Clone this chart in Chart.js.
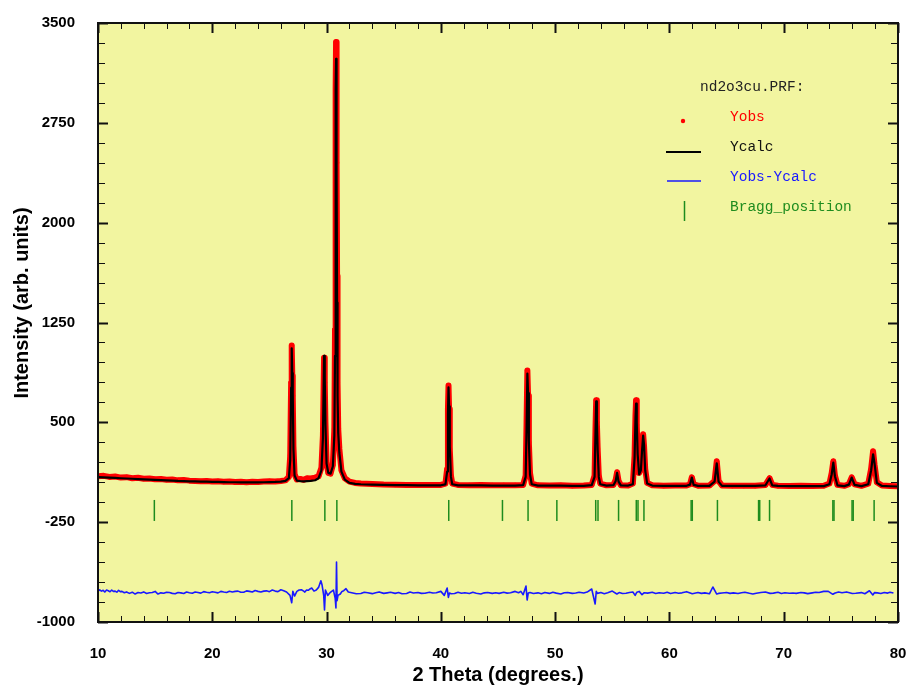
<!DOCTYPE html>
<html>
<head>
<meta charset="utf-8">
<script src="https://cdn.jsdelivr.net/npm/chart.js@4/dist/chart.umd.min.js"></script>
<style>
  html, body { margin: 0; padding: 0; background: #ffffff; }
  #wrap { width: 910px; height: 687px; }
</style>
</head>
<body>
<div id="wrap"><canvas id="c" width="910" height="687"></canvas></div>
<script>
// ---- Data ----
const twoTheta = [10.0,10.5,11.0,11.5,12.0,12.5,13.0,13.5,14.0,14.5,15.0,15.5,16.0,16.5,17.0,17.5,18.0,18.5,19.0,19.5,20.0,20.5,21.0,21.5,22.0,22.5,23.0,23.5,24.0,24.5,25.0,25.5,26.0,26.4,26.7,26.82,26.9,26.95,27.0,27.04,27.1,27.2,27.4,27.7,28.0,28.3,28.6,29.0,29.3,29.55,29.68,29.78,29.84,29.9,30.0,30.15,30.35,30.55,30.68,30.74,30.78,30.81,30.83,30.86,30.89,30.92,30.96,31.02,31.12,31.3,31.6,32.0,32.5,33.0,34.0,35.0,36.0,37.0,38.0,39.0,40.0,40.4,40.55,40.62,40.67,40.72,40.78,40.88,41.0,41.5,42.5,43.5,44.5,45.5,46.5,47.2,47.42,47.5,47.57,47.63,47.7,47.8,47.95,48.5,49.5,50.5,51.5,52.5,53.2,53.45,53.53,53.59,53.65,53.72,53.82,53.95,54.5,55.1,55.3,55.42,55.55,55.75,56.4,56.8,56.95,57.03,57.08,57.14,57.22,57.35,57.5,57.6,57.7,57.78,57.88,58.05,58.5,59.5,60.5,61.5,61.8,61.96,62.12,62.5,63.5,63.95,64.14,64.3,64.6,65.5,66.5,67.5,68.4,68.76,69.0,69.5,70.5,71.5,72.5,73.5,74.0,74.2,74.34,74.48,74.7,75.3,75.7,75.95,76.2,76.8,77.4,77.65,77.82,77.95,78.15,78.6,79.3,80.0];
const yObs = [95,98,90,93,85,88,80,84,76,78,72,74,68,70,64,66,62,60,58,60,55,57,54,56,52,54,50,53,51,55,58,56,60,64,90,250,800,1077,850,700,320,110,70,75,68,80,78,85,95,160,400,985,800,500,200,120,115,180,450,1200,2300,3000,3357,2900,2450,1600,800,450,300,140,80,55,45,40,36,33,32,30,29,30,30,40,150,600,777,600,300,100,40,30,28,30,27,28,27,30,100,500,890,700,350,120,40,27,25,27,24,25,30,100,450,665,500,300,100,40,27,30,70,125,60,28,26,40,250,550,665,480,250,120,150,300,410,320,150,45,27,24,25,25,35,87,35,24,25,60,207,60,25,24,23,24,30,80,30,23,22,23,22,23,40,120,207,100,30,23,35,87,35,23,40,150,282,180,50,25,22,20];
const yCalc = [88,86,84,82,80,78,76,74,72,70,68,66,64,62,60,59,57,56,55,54,53,52,51,50,50,49,49,49,49,50,51,52,55,60,80,220,760,1055,870,720,300,100,62,58,56,58,60,65,80,140,380,1000,840,480,190,120,115,170,400,1000,2200,3000,3230,1600,2370,1400,700,420,270,130,70,45,38,35,32,30,29,28,27,27,27,34,130,560,762,620,320,90,35,27,26,26,25,25,25,28,90,450,867,720,360,110,35,25,24,24,23,23,28,90,420,657,520,290,90,35,25,28,60,120,55,26,25,35,230,530,640,500,260,110,140,280,400,330,140,40,25,23,23,23,32,85,30,23,23,55,192,55,23,22,22,22,27,78,27,22,21,21,21,21,35,110,197,95,27,21,32,85,30,21,35,140,260,190,45,22,20,18];

const diffTheta = [10.0,10.15,10.3,10.45,10.6,10.75,10.9,11.05,11.2,11.35,11.5,11.65,11.8,11.95,12.1,12.3,12.5,12.75,13.0,13.25,13.5,13.75,14.0,14.25,14.5,14.75,15.0,15.25,15.5,15.75,16.0,16.25,16.5,16.75,17.0,17.25,17.5,17.75,18.0,18.25,18.5,18.75,19.0,19.25,19.5,19.75,20.0,20.25,20.5,20.75,21.0,21.25,21.5,21.75,22.0,22.25,22.5,22.75,23.0,23.25,23.5,23.75,24.0,24.25,24.5,24.75,25.0,25.25,25.5,25.75,26.0,26.25,26.5,26.8,26.95,27.05,27.2,27.4,27.6,27.8,28.0,28.1,28.25,28.4,28.55,28.7,28.9,29.1,29.3,29.5,29.6,29.75,29.82,29.9,30.1,30.3,30.45,30.6,30.75,30.82,30.87,30.92,31.0,31.2,31.35,31.5,31.7,31.9,32.1,32.3,32.6,33.0,33.3,33.6,34.0,34.3,34.6,35.0,35.3,35.6,36.0,36.3,36.6,37.0,37.3,37.6,38.0,38.3,38.6,39.0,39.3,39.6,40.0,40.3,40.55,40.66,40.75,40.9,41.2,41.5,41.8,42.1,42.5,42.8,43.1,43.5,43.8,44.1,44.5,44.8,45.1,45.5,45.8,46.1,46.5,46.8,47.0,47.2,47.45,47.55,47.65,47.8,48.1,48.5,48.8,49.1,49.5,49.8,50.1,50.5,50.8,51.1,51.5,51.8,52.1,52.5,52.8,53.2,53.5,53.6,53.7,54.0,54.3,54.6,55.0,55.4,55.6,55.9,56.2,56.5,56.8,57.0,57.15,57.35,57.6,57.8,58.1,58.5,58.8,59.1,59.5,59.8,60.1,60.5,60.8,61.1,61.5,62.0,62.2,62.5,62.8,63.1,63.5,63.8,64.14,64.3,64.6,65.0,65.3,65.6,66.0,66.3,66.6,67.0,67.3,67.6,68.0,68.4,68.8,69.1,69.5,69.8,70.1,70.5,70.8,71.1,71.5,71.8,72.1,72.5,72.8,73.1,73.5,73.9,74.3,74.5,74.8,75.1,75.5,76.0,76.3,76.8,77.1,77.5,77.8,77.95,78.2,78.5,78.8,79.1,79.3,79.6,80.0];
const yDiff = [-770,-758,-768,-762,-775,-760,-765,-773,-760,-770,-768,-776,-762,-772,-770,-780,-774,-785,-776,-790,-779,-782,-774,-786,-780,-778,-770,-790,-781,-784,-776,-779,-785,-788,-778,-781,-786,-775,-780,-784,-775,-779,-783,-772,-777,-780,-773,-776,-781,-770,-775,-778,-769,-774,-770,-768,-777,-776,-766,-770,-775,-764,-770,-775,-768,-766,-772,-760,-768,-772,-758,-765,-775,-800,-855,-770,-805,-770,-760,-758,-768,-775,-760,-762,-752,-745,-768,-760,-740,-690,-720,-800,-910,-760,-800,-780,-770,-760,-820,-895,-549,-840,-800,-790,-770,-765,-750,-775,-778,-782,-788,-786,-776,-780,-787,-780,-774,-785,-781,-777,-785,-779,-788,-786,-775,-782,-778,-785,-784,-776,-782,-780,-770,-800,-745,-815,-782,-788,-786,-776,-784,-780,-786,-777,-784,-790,-781,-778,-785,-780,-785,-777,-783,-780,-770,-780,-770,-795,-730,-835,-782,-778,-786,-781,-788,-779,-785,-776,-783,-789,-780,-778,-785,-782,-776,-782,-775,-752,-865,-770,-785,-778,-787,-780,-768,-790,-779,-786,-784,-778,-775,-800,-776,-770,-795,-780,-783,-777,-786,-780,-784,-776,-786,-779,-784,-781,-772,-788,-784,-778,-785,-781,-788,-737,-790,-785,-782,-778,-785,-781,-786,-780,-776,-784,-789,-784,-778,-775,-785,-783,-777,-786,-780,-784,-782,-785,-778,-781,-787,-781,-776,-778,-770,-770,-792,-782,-775,-780,-774,-786,-784,-779,-788,-765,-797,-779,-781,-786,-778,-783,-776,-782];

const braggPositions = [14.93,26.96,29.85,30.9,40.69,45.39,47.63,50.15,53.55,53.75,55.55,57.1,57.25,57.77,61.9,62.0,64.2,67.8,67.9,68.76,74.3,74.4,75.98,76.08,77.91];
const braggLevel = -162;

const xTickValues = [10,20,30,40,50,60,70,80];
const yTickValues = [-1000,-250,500,1250,2000,2750,3500];

const legendHeader = 'nd2o3cu.PRF:';
const legendLabels = ['Yobs','Ycalc','Yobs-Ycalc','Bragg_position'];

const xTitle = '2 Theta (degrees.)';
const yTitle = 'Intensity (arb. units)';

// ---- Colours ----
const COL_BG = 'rgb(242,245,160)';
const COL_OBS = 'rgb(255,0,0)';
const COL_CALC = 'rgb(0,0,0)';
const COL_DIFF = 'rgb(25,25,255)';
const COL_BRAGG = 'rgb(30,140,30)';

const pts = (xs, ys) => xs.map((x, i) => ({x: x, y: ys[i]}));

const framePlugin = {
  id: 'frame',
  beforeDatasetsDraw(chart) {
    const {ctx, chartArea: a} = chart;
    ctx.save();
    ctx.fillStyle = COL_BG;
    ctx.fillRect(a.left, a.top, a.right - a.left, a.bottom - a.top);
    ctx.restore();
  },
  afterDatasetsDraw(chart) {
    const {ctx, chartArea: a, scales} = chart;
    const xs = scales.x, ys = scales.y;
    ctx.save();
    ctx.strokeStyle = '#111';
    for (let v = 10; v <= 80.001; v += 2) {
      const major = Math.abs(v % 10) < 1e-6;
      const px = Math.round(xs.getPixelForValue(v)) + 0.5;
      const len = major ? 10 : 6;
      ctx.lineWidth = major ? 2 : 1;
      ctx.beginPath();
      ctx.moveTo(px, a.bottom); ctx.lineTo(px, a.bottom - len);
      ctx.moveTo(px, a.top); ctx.lineTo(px, a.top + len);
      ctx.stroke();
    }
    for (let v = -1000; v <= 3500.001; v += 150) {
      const major = Math.abs((v + 1000) % 750) < 1e-6;
      const py = Math.round(ys.getPixelForValue(v)) + 0.5;
      const len = major ? 10 : 7;
      ctx.lineWidth = major ? 2 : 1;
      ctx.beginPath();
      ctx.moveTo(a.left, py); ctx.lineTo(a.left + len, py);
      ctx.moveTo(a.right, py); ctx.lineTo(a.right - len, py);
      ctx.stroke();
    }
    ctx.lineWidth = 2;
    ctx.strokeStyle = '#111';
    ctx.strokeRect(a.left, a.top, a.right - a.left, a.bottom - a.top);
    ctx.restore();
  },
  afterDraw(chart) {
    const {ctx} = chart;
    ctx.save();
    ctx.translate(22, 303);
    ctx.rotate(-Math.PI / 2);
    ctx.font = 'bold 20px "Liberation Sans", Arial, sans-serif';
    ctx.fillStyle = '#000';
    ctx.textAlign = 'center';
    ctx.textBaseline = 'middle';
    ctx.fillText(yTitle, 0, 0);
    ctx.restore();

    ctx.save();
    ctx.font = '14.5px "Liberation Mono", "DejaVu Sans Mono", monospace';
    ctx.textBaseline = 'middle';
    ctx.textAlign = 'left';
    ctx.fillStyle = '#222';
    ctx.fillText(legendHeader, 700, 87);
    const cols = [COL_OBS, '#111', COL_DIFF, COL_BRAGG];
    legendLabels.forEach((t, i) => {
      ctx.fillStyle = cols[i];
      ctx.fillText(t, 730, 117 + i * 30);
    });
    ctx.fillStyle = COL_OBS;
    ctx.beginPath(); ctx.arc(683, 121, 2.2, 0, Math.PI * 2); ctx.fill();
    ctx.strokeStyle = '#000'; ctx.lineWidth = 2.2;
    ctx.beginPath(); ctx.moveTo(666, 152); ctx.lineTo(701, 152); ctx.stroke();
    ctx.strokeStyle = COL_DIFF; ctx.lineWidth = 1.3;
    ctx.beginPath(); ctx.moveTo(667, 181); ctx.lineTo(701, 181); ctx.stroke();
    ctx.strokeStyle = COL_BRAGG; ctx.lineWidth = 1.5;
    ctx.beginPath(); ctx.moveTo(684.5, 201); ctx.lineTo(684.5, 221); ctx.stroke();
    ctx.restore();
  }
};

const tickFont = { family: '"Liberation Sans", Arial, sans-serif', size: 15, weight: 'bold' };

new Chart(document.getElementById('c'), {
  type: 'scatter',
  data: {
    datasets: [
      {
        label: 'Ycalc', data: pts(twoTheta, yCalc), showLine: true,
        borderColor: COL_CALC, borderWidth: 2.2, borderJoinStyle: 'round', borderCapStyle: 'round',
        pointRadius: 0, tension: 0, order: 0
      },
      {
        label: 'Yobs', data: pts(twoTheta, yObs), showLine: true,
        borderColor: COL_OBS, backgroundColor: COL_OBS, borderWidth: 6, borderJoinStyle: 'round', borderCapStyle: 'round',
        pointRadius: 2.5, pointBorderWidth: 0, tension: 0, order: 1
      },
      {
        label: 'Yobs-Ycalc', data: pts(diffTheta, yDiff), showLine: true,
        borderColor: COL_DIFF, borderWidth: 1.6, borderJoinStyle: 'round', pointRadius: 0, tension: 0, order: 2
      },
      {
        label: 'Bragg_position', data: braggPositions.map(x => ({x: x, y: braggLevel})),
        showLine: false, pointStyle: 'line', rotation: 90, radius: 10.5, pointRadius: 10.5,
        borderColor: COL_BRAGG, backgroundColor: COL_BRAGG, pointBorderWidth: 1.5, borderWidth: 1.5, order: 3
      }
    ]
  },
  options: {
    responsive: false,
    animation: false,
    devicePixelRatio: 1,
    layout: { padding: { left: 0, right: 10, top: 23, bottom: 0 } },
    plugins: { legend: { display: false }, tooltip: { enabled: false } },
    scales: {
      x: {
        type: 'linear', min: 10, max: 80,
        afterBuildTicks: s => { s.ticks = xTickValues.map(v => ({value: v})); },
        afterFit: s => { s.height = 65; s.paddingLeft = 0; s.paddingRight = 0; },
        ticks: { color: '#000', font: tickFont, padding: 15, maxRotation: 0, callback: v => String(v) },
        grid: { display: false }, border: { display: false },
        title: { display: true, text: xTitle, color: '#000', font: { family: '"Liberation Sans", Arial, sans-serif', size: 20, weight: 'bold' }, padding: { top: 0, bottom: 0 } }
      },
      y: {
        type: 'linear', min: -1000, max: 3500,
        afterBuildTicks: s => { s.ticks = yTickValues.map(v => ({value: v})); },
        afterFit: s => { s.width = 98; s.paddingTop = 0; s.paddingBottom = 0; },
        ticks: { color: '#000', font: tickFont, padding: 15, callback: v => String(v) },
        grid: { display: false }, border: { display: false },
        title: { display: false }
      }
    }
  },
  plugins: [framePlugin]
});
</script>
</body>
</html>
